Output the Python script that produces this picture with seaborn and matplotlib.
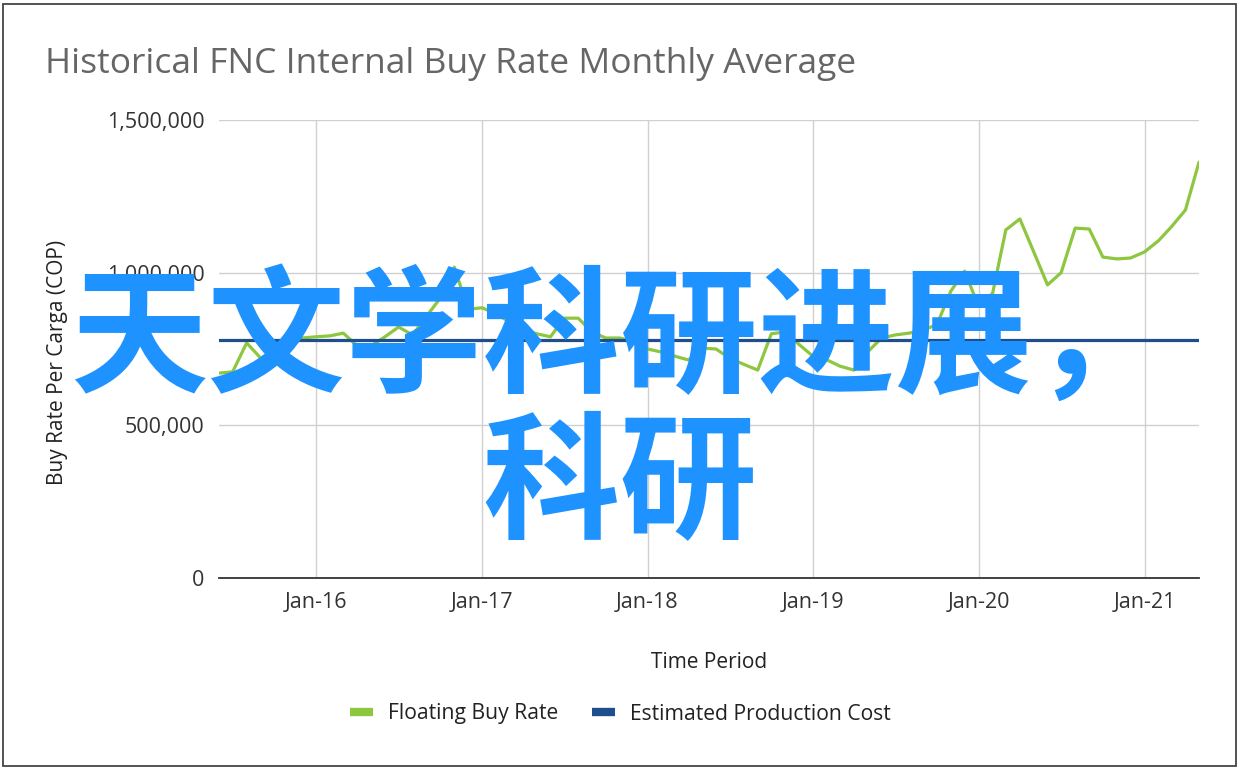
import matplotlib
matplotlib.use("Agg")
import matplotlib.pyplot as plt
import matplotlib.dates as mdates
import matplotlib.ticker as mticker
from matplotlib.patches import Rectangle
from matplotlib.lines import Line2D
import seaborn as sns
import pandas as pd

# ---- data ----
start_month = "2015-06-01"
floating_buy_rate = [
    671000, 675000, 770000, 720000, 745000, 775000, 786000,                      # 2015 Jun-Dec
    790000, 793000, 802000, 760000, 760000, 790000, 822000, 796000, 858000, 917000, 1018000, 880000,   # 2016
    885000, 865000, 840000, 815000, 800000, 790000, 851000, 851000, 805000, 786000, 786000, 775000,    # 2017
    750000, 740000, 727000, 714000, 753000, 750000, 720000, 700000, 681000, 800000, 806000, 765000,    # 2018
    726000, 714000, 694000, 681000, 740000, 786000, 796000, 802000, 812000, 830000, 940000, 1005000,   # 2019
    890000, 933000, 1140000, 1176000, 1070000, 960000, 1000000, 1146000, 1143000, 1051000, 1045000, 1048000,  # 2020
    1068000, 1105000, 1150000, 1205000, 1362000,                                  # 2021 Jan-May
]
estimated_production_cost = 780000
series_names = ["Floating Buy Rate", "Estimated Production Cost"]
y_ticks = [0, 500000, 1000000, 1500000]
title = "Historical FNC Internal Buy Rate Monthly Average"
x_label = "Time Period"
y_label = "Buy Rate Per Carga (COP)"
overlay_text = "天文学科研进展，科研"

months = pd.date_range(start_month, periods=len(floating_buy_rate), freq="MS")
df = pd.DataFrame({
    "month": list(months) * 2,
    "value": floating_buy_rate + [estimated_production_cost] * len(months),
    "series": [series_names[0]] * len(months) + [series_names[1]] * len(months),
})

sns.set_theme(style="white")
plt.rcParams["font.family"] = ["Open Sans", "DejaVu Sans"]

green = "#8dc63f"
navy = "#1f4e8c"
palette = {series_names[0]: green, series_names[1]: navy}

W, H = 1240, 770
fig = plt.figure(figsize=(W / 100, H / 100), dpi=100)
ax = fig.add_axes([219 / W, 1 - 578 / H, (1199 - 219) / W, (578 - 120) / H])

sns.lineplot(data=df, x="month", y="value", hue="series", palette=palette,
             hue_order=series_names, linewidth=2.3, ax=ax, legend=False)

ax.set_xlim(months[0], months[-1])
ax.set_ylim(0, 1500000)
ax.set_yticks(y_ticks)
ax.yaxis.set_major_formatter(mticker.FuncFormatter(lambda v, p: f"{int(v):,}"))
ax.xaxis.set_major_locator(mdates.YearLocator())
ax.xaxis.set_major_formatter(mdates.DateFormatter("Jan-%y"))

ax.grid(True, color="#d0d0d0", linewidth=1.0)
ax.set_axisbelow(True)
for s in ["top", "right", "left"]:
    ax.spines[s].set_visible(False)
ax.spines["bottom"].set_color("#333333")
ax.spines["bottom"].set_linewidth(1.3)
ax.tick_params(axis="x", length=0, pad=10, labelsize=15.5, labelcolor="#333333")
ax.tick_params(axis="y", length=0, pad=10.5, labelsize=15.5, labelcolor="#333333")

ax.set_xlabel(x_label, fontsize=15, color="#222222", va="center")
ax.xaxis.set_label_coords(0.5, -(663 - 578) / 458)
ax.set_ylabel(y_label, fontsize=15, color="#222222", va="center")
ax.yaxis.set_label_coords(-(219 - 57) / 980, (578 - 362) / 458)

fig.text(45 / W, 1 - 64 / H, title, fontsize=25.5, color="#666666",
         ha="left", va="center")

handles = [Line2D([0], [0], color=green, linewidth=6, solid_capstyle="butt"),
           Line2D([0], [0], color=navy, linewidth=6, solid_capstyle="butt")]
fig.legend(handles, series_names, loc="center", bbox_to_anchor=(0.5, 1 - 714 / H),
           ncol=2, frameon=False, fontsize=15.2, handlelength=1.1,
           columnspacing=1.6, handletextpad=0.7, labelcolor="#222222")

lines = [overlay_text[:8], overlay_text[8:]]
fig.text(0.5, 1 - 342 / H, lines[0], fontsize=99, color="#1e93ff",
         family=["Noto Sans CJK SC", "DejaVu Sans"], fontweight="bold",
         ha="center", va="center")
fig.text(0.5, 1 - 488 / H, lines[1], fontsize=99, color="#1e93ff",
         family=["Noto Sans CJK SC", "DejaVu Sans"], fontweight="bold",
         ha="center", va="center")

fig.patches.append(Rectangle((3 / W, 4 / H), 1 - 7 / W, 1 - 8 / H,
                             transform=fig.transFigure, fill=False,
                             edgecolor="#444444", linewidth=1.3))

fig.savefig("out.png", dpi=100)
